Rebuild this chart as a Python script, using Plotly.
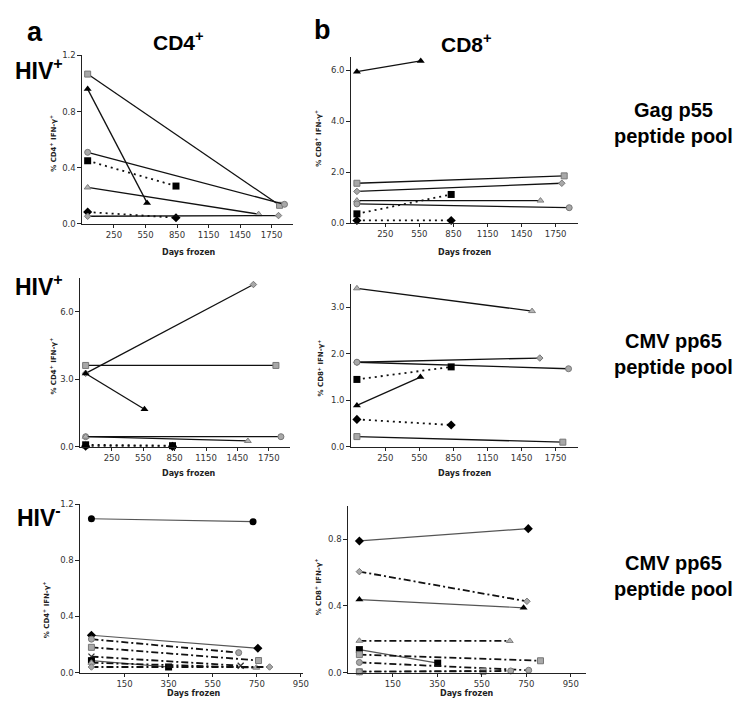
import plotly.graph_objects as go

W, H = 750, 712

# ------------------------------------------------------------------ data
FIRST_DAY = 0

# Row 1: Gag p55 peptide pool, HIV+ donors
gag_cd4_start = [1.067, 0.96, 0.51, 0.45, 0.26, 0.085, 0.055]
gag_cd4_end = [0.133, 0.15, 0.14, 0.27, 0.07, 0.045, 0.06]
gag_cd4_days = [1825, 565, 1872, 840, 1626, 840, 1815]

gag_cd8_start = [5.94, 1.56, 1.24, 0.36, 0.88, 0.75, 0.10]
gag_cd8_end = [6.36, 1.85, 1.56, 1.12, 0.88, 0.60, 0.10]
gag_cd8_days = [562, 1825, 1804, 830, 1616, 1869, 830]

# Row 2: CMV pp65 peptide pool, HIV+ donors
cmvp_cd4_start = [3.27, 3.62, 3.26, 0.45, 0.45, 0.09, 0.03]
cmvp_cd4_end = [7.22, 3.62, 1.67, 0.45, 0.26, 0.05, 0.02]
cmvp_cd4_days = [1603, 1818, 562, 1866, 1550, 830, 830]

cmvp_cd8_start = [3.41, 1.82, 1.82, 1.45, 0.89, 0.59, 0.22]
cmvp_cd8_end = [2.92, 1.91, 1.68, 1.72, 1.50, 0.47, 0.10]
cmvp_cd8_days = [1542, 1610, 1863, 830, 559, 830, 1813]

# Row 3: CMV pp65 peptide pool, HIV- donors
cmvn_cd4_start = [1.095, 0.266, 0.238, 0.18, 0.114, 0.085, 0.07, 0.04]
cmvn_cd4_end = [1.074, 0.173, 0.142, 0.086, 0.049, 0.04, 0.035, 0.04]
cmvn_cd4_days = [733, 755, 668, 758, 677, 350, 748, 808]

cmvn_cd8_start = [0.79, 0.606, 0.438, 0.191, 0.138, 0.108, 0.061, 0.005, 0.005]
cmvn_cd8_end = [0.864, 0.428, 0.389, 0.19, 0.057, 0.071, 0.014, 0.008, 0.01]
cmvn_cd8_days = [759, 753, 738, 676, 352, 814, 761, 556, 680]

hiv_pos_xticks = [250, 550, 850, 1150, 1450, 1750]
hiv_neg_xticks = [150, 350, 550, 750, 950]

# ------------------------------------------------------------------ styles
MARK = {
    "gsq": dict(symbol="square", color="#a8a8a8", line=dict(color="#777", width=1), size=6),
    "gcirc": dict(symbol="circle", color="#a8a8a8", line=dict(color="#777", width=1), size=6),
    "gtri": dict(symbol="triangle-up", color="#b4b4b4", line=dict(color="#808080", width=1), size=6),
    "gdia": dict(symbol="diamond", color="#a8a8a8", line=dict(color="#777", width=1), size=5),
    "btri": dict(symbol="triangle-up", color="#000", size=7),
    "bsq": dict(symbol="square", color="#000", size=7),
    "bdia": dict(symbol="diamond", color="#000", size=7),
    "bcirc": dict(symbol="circle", color="#000", size=7),
    "x": dict(symbol="x-thin", color="#333", line=dict(color="#333", width=1.3), size=6),
}
SOLID = dict(color="#111", width=1.3, dash="solid")
DOT = dict(color="#111", width=1.8, dash="2px,4px")
DASHDOT = dict(color="#111", width=1.8, dash="7px,3px,2px,3px")
GREYSOLID = dict(color="#555", width=1.2, dash="solid")

panels = [
    dict(s=gag_cd4_start, e=gag_cd4_end, d=gag_cd4_days,
         m=["gsq", "btri", "gcirc", "bsq", "gtri", "bdia", "gdia"],
         l=[SOLID, SOLID, SOLID, DOT, SOLID, DOT, SOLID],
         box=(75, 287, 43, 214), xr=[-50, 1950], yr=[0, 1.2],
         yt=[0, 0.4, 0.8, 1.2], xt=hiv_pos_xticks),
    dict(s=gag_cd8_start, e=gag_cd8_end, d=gag_cd8_days,
         m=["btri", "gsq", "gdia", "bsq", "gtri", "gcirc", "bdia"],
         l=[SOLID, SOLID, SOLID, DOT, SOLID, SOLID, DOT],
         box=(346, 575, 45, 213), xr=[-50, 1950], yr=[0, 6.5],
         yt=[0, 2, 4, 6], xt=hiv_pos_xticks),
    dict(s=cmvp_cd4_start, e=cmvp_cd4_end, d=cmvp_cd4_days,
         m=["gdia", "gsq", "btri", "gcirc", "gtri", "bsq", "bdia"],
         l=[SOLID, SOLID, SOLID, SOLID, SOLID, DOT, DOT],
         box=(73, 284, 269, 440), xr=[-50, 1950], yr=[0, 7.5],
         yt=[0, 3, 6], xt=hiv_pos_xticks),
    dict(s=cmvp_cd8_start, e=cmvp_cd8_end, d=cmvp_cd8_days,
         m=["gtri", "gdia", "gcirc", "bsq", "btri", "bdia", "gsq"],
         l=[SOLID, SOLID, SOLID, DOT, SOLID, DOT, SOLID],
         box=(346, 575, 275, 440), xr=[-50, 1950], yr=[0, 3.5],
         yt=[0, 1, 2, 3], xt=hiv_pos_xticks),
    dict(s=cmvn_cd4_start, e=cmvn_cd4_end, d=cmvn_cd4_days,
         m=["bcirc", "bdia", "gcirc", "gsq", "x", "bsq", "gtri", "gdia"],
         l=[GREYSOLID, GREYSOLID, DASHDOT, DASHDOT, DASHDOT, GREYSOLID, DASHDOT, DASHDOT],
         box=(73, 297, 498, 669), xr=[-50, 958], yr=[0, 1.2],
         yt=[0, 0.4, 0.8, 1.2], xt=hiv_neg_xticks),
    dict(s=cmvn_cd8_start, e=cmvn_cd8_end, d=cmvn_cd8_days,
         m=["bdia", "gdia", "btri", "gtri", "bsq", "gsq", "gcirc", "gsq", "gcirc"],
         l=[GREYSOLID, DASHDOT, GREYSOLID, DASHDOT, GREYSOLID, DASHDOT, DASHDOT, DASHDOT, DASHDOT],
         box=(343, 583, 500, 669), xr=[-50, 1020], yr=[0, 1.0],
         yt=[0, 0.4, 0.8], xt=hiv_neg_xticks),
]

TICKFONT = dict(family="DejaVu Sans", size=8.5, color="#333")

fig = go.Figure()
layout = dict(
    width=W, height=H, margin=dict(l=0, r=0, t=0, b=0),
    paper_bgcolor="white", plot_bgcolor="white", showlegend=False,
)

for k, p in enumerate(panels, start=1):
    xa = "x" if k == 1 else f"x{k}"
    ya = "y" if k == 1 else f"y{k}"
    for i in range(len(p["s"])):
        fig.add_trace(go.Scatter(
            x=[FIRST_DAY, p["d"][i]], y=[p["s"][i], p["e"][i]],
            mode="lines+markers", line=p["l"][i], marker=MARK[p["m"][i]],
            xaxis=xa, yaxis=ya, cliponaxis=False, hoverinfo="x+y",
        ))
    x0, x1, yt, yb = p["box"]
    layout["xaxis" if k == 1 else f"xaxis{k}"] = dict(
        domain=[x0 / W, x1 / W], range=p["xr"], anchor=ya,
        tickvals=p["xt"], showline=True, linecolor="#222", linewidth=1,
        ticks="outside", ticklen=3, tickcolor="#222", showgrid=False, zeroline=False,
        tickfont=TICKFONT, fixedrange=True,
    )
    layout["yaxis" if k == 1 else f"yaxis{k}"] = dict(
        domain=[1 - yb / H, 1 - yt / H], range=p["yr"], anchor=xa,
        tickvals=p["yt"], tickformat=".1f", showline=True, linecolor="#222", linewidth=1,
        ticks="outside", ticklen=4, tickcolor="#222", showgrid=False, zeroline=False,
        tickfont=TICKFONT, fixedrange=True,
    )

fig.update_layout(**layout)


def ann(text, px, py, size, family="Liberation Sans", bold=True, angle=0, color="#000"):
    fig.add_annotation(
        text=text, x=px / W, y=1 - py / H, xref="paper", yref="paper",
        xanchor="center", yanchor="middle", showarrow=False, textangle=angle,
        font=dict(family=family, size=size, color=color, weight="bold" if bold else "normal"),
    )


# panel letters and column headers
ann("a", 27, 19, 27)
ann("b", 317, 17, 27)
ann("CD4<sup>+</sup>", 172, 28, 21)
ann("CD8<sup>+</sup>", 462, 30, 21)

# row labels
ann("HIV<sup>+</sup>", 31, 57, 23)
ann("HIV<sup>+</sup>", 31, 276, 23)
ann("HIV<sup>-</sup>", 31, 510, 23)

# right-hand labels
ann("Gag p55<br>peptide pool", 671, 112, 20)
ann("CMV pp65<br>peptide pool", 671, 346, 20)
ann("CMV pp65<br>peptide pool", 671, 571, 20)

# axis titles
ytitle_cd4 = "% CD4<sup>+</sup> IFN-\u03b3<sup>+</sup>"
ytitle_cd8 = "% CD8<sup>+</sup> IFN-\u03b3<sup>+</sup>"
for txt, px, py in [(ytitle_cd4, 46, 132), (ytitle_cd8, 313, 127),
                    (ytitle_cd4, 45, 358), (ytitle_cd8, 315, 360),
                    (ytitle_cd4, 38, 605), (ytitle_cd8, 312, 582)]:
    ann(txt, px, py, 7, family="DejaVu Sans", angle=-90, color="#222")

for px, py in [(182, 243), (461, 243), (182, 467), (461, 467), (188, 690), (463, 690)]:
    ann("Days frozen", px, py, 8, family="DejaVu Sans", color="#222")

fig.write_html("out.html")
